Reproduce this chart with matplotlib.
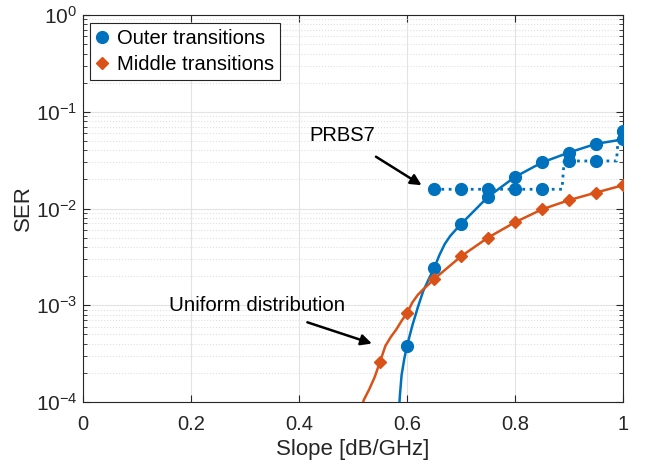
import matplotlib
matplotlib.use("Agg")
import matplotlib.pyplot as plt
from matplotlib.ticker import FixedLocator, FixedFormatter, LogLocator, NullFormatter

plt.rcParams['font.family'] = ['Liberation Sans', 'DejaVu Sans']
plt.rcParams['mathtext.fontset'] = 'custom'
plt.rcParams['mathtext.rm'] = 'Liberation Sans'
plt.rcParams['mathtext.it'] = 'Liberation Sans'
plt.rcParams['mathtext.default'] = 'regular'

# ---- data ----
# Outer transitions, uniform distribution: markers
outer_x = [0.60, 0.65, 0.70, 0.75, 0.80, 0.85, 0.90, 0.95, 1.00]
outer_y = [3.8e-4, 2.4e-3, 6.9e-3, 1.32e-2, 2.12e-2, 2.99e-2, 3.79e-2, 4.66e-2, 5.18e-2]
# Outer transitions, uniform distribution: finer line
outer_line_x = [0.585, 0.587, 0.590, 0.595, 0.60, 0.61, 0.62, 0.63, 0.64, 0.65,
                0.66, 0.67, 0.68, 0.69, 0.70, 0.75, 0.80, 0.85, 0.90, 0.95, 1.00]
outer_line_y = [8.0e-5, 1.2e-4, 1.9e-4, 2.8e-4, 3.8e-4, 6.2e-4, 9.5e-4, 1.4e-3, 1.85e-3, 2.4e-3,
                3.3e-3, 4.3e-3, 5.2e-3, 6.0e-3, 6.9e-3, 1.32e-2, 2.12e-2, 2.99e-2, 3.79e-2, 4.66e-2, 5.18e-2]

# Outer transitions, PRBS7
prbs_x = [0.65, 0.70, 0.75, 0.80, 0.85, 0.90, 0.95, 1.00]
prbs_y = [1.58e-2, 1.58e-2, 1.58e-2, 1.58e-2, 1.58e-2, 3.1e-2, 3.1e-2, 6.3e-2]
prbs_line_x = [0.65, 0.70, 0.75, 0.80, 0.85, 0.887, 0.891, 0.90, 0.95, 0.988, 0.992, 1.00]
prbs_line_y = [1.58e-2, 1.58e-2, 1.58e-2, 1.58e-2, 1.58e-2, 1.58e-2, 3.1e-2, 3.1e-2, 3.1e-2, 3.1e-2, 6.3e-2, 6.3e-2]

# Middle transitions: markers
middle_x = [0.55, 0.60, 0.65, 0.70, 0.75, 0.80, 0.85, 0.90, 0.95, 1.00]
middle_y = [2.6e-4, 8.3e-4, 1.86e-3, 3.2e-3, 5.0e-3, 7.2e-3, 9.8e-3, 1.22e-2, 1.46e-2, 1.74e-2]
# Middle transitions: finer line
middle_line_x = [0.515, 0.52, 0.53, 0.54, 0.55, 0.56, 0.57, 0.58, 0.59, 0.60,
                 0.61, 0.62, 0.63, 0.64, 0.65, 0.70, 0.75, 0.80, 0.85, 0.90, 0.95, 1.00]
middle_line_y = [8.5e-5, 1.05e-4, 1.35e-4, 1.8e-4, 2.6e-4, 3.8e-4, 4.7e-4, 5.6e-4, 6.9e-4, 8.3e-4,
                 1.07e-3, 1.28e-3, 1.46e-3, 1.64e-3, 1.86e-3, 3.2e-3, 5.0e-3, 7.2e-3, 9.8e-3, 1.22e-2, 1.46e-2, 1.74e-2]

xticks = [0, 0.2, 0.4, 0.6, 0.8, 1.0]
xtick_labels = ['0', '0.2', '0.4', '0.6', '0.8', '1']
yticks = [1e-4, 1e-3, 1e-2, 1e-1, 1e0]
ytick_labels = ['$10^{-4}$', '$10^{-3}$', '$10^{-2}$', '$10^{-1}$', '$10^{0}$']

blue = '#0072BD'
orange = '#D95319'
dark = '#262626'

fig = plt.figure(figsize=(6.46, 4.66), dpi=100)
L, R, T, B = 83, 623, 15, 402
ax = fig.add_axes([L/646, 1-B/466, (R-L)/646, (B-T)/466])

ax.set_yscale('log')
ax.set_xlim(0, 1)
ax.set_ylim(1e-4, 1)

# grid
ax.grid(True, which='major', axis='both', color='#e3e3e3', linestyle='-', linewidth=0.8)
ax.grid(True, which='minor', axis='y', color='#e0e0e0', linestyle=':', linewidth=0.8)
ax.set_axisbelow(True)

# lines
ax.plot(outer_line_x, outer_line_y, '-', color=blue, lw=1.8, zorder=3)
ax.plot(outer_x, outer_y, 'o', color=blue, ms=8.5, zorder=4)
ax.plot(prbs_line_x, prbs_line_y, ':', color=blue, lw=2.0, zorder=3)
ax.plot(prbs_x, prbs_y, 'o', color=blue, ms=8.5, zorder=4)
ax.plot(middle_line_x, middle_line_y, '-', color=orange, lw=1.8, zorder=3)
ax.plot(middle_x, middle_y, 'D', color=orange, ms=6.5, zorder=4)

# legend handles
h1, = ax.plot([], [], 'o', color=blue, ms=8.5, label='Outer transitions')
h2, = ax.plot([], [], 'D', color=orange, ms=6.5, label='Middle transitions')
leg = ax.legend(handles=[h1, h2], loc='upper left', bbox_to_anchor=(0.013, 0.98),
                prop={'size': 14.5}, frameon=True, fancybox=False, framealpha=1,
                edgecolor=dark, handlelength=0.6, handletextpad=0.45,
                borderpad=0.3, labelspacing=0.38, borderaxespad=0)
leg.get_frame().set_linewidth(0.8)

# annotations
ax.annotate('PRBS7', xy=(0.627, 1.74e-2), xytext=(0.480, 5.67e-2),
            ha='center', va='center', fontsize=14.5,
            arrowprops=dict(arrowstyle='-|>', color='black', lw=1.8,
                            mutation_scale=16, shrinkA=12, shrinkB=0))
ax.annotate('Uniform distribution', xy=(0.535, 4.02e-4), xytext=(0.322, 9.9e-4),
            ha='center', va='center', fontsize=14.8,
            arrowprops=dict(arrowstyle='-|>', color='black', lw=1.8,
                            mutation_scale=16, shrinkA=10, shrinkB=0))

# ticks
ax.xaxis.set_major_locator(FixedLocator(xticks))
ax.xaxis.set_major_formatter(FixedFormatter(xtick_labels))
ax.yaxis.set_major_locator(FixedLocator(yticks))
ax.yaxis.set_major_formatter(FixedFormatter(ytick_labels))
ax.yaxis.set_minor_locator(LogLocator(base=10, subs=range(2, 10)))
ax.yaxis.set_minor_formatter(NullFormatter())
ax.tick_params(which='both', direction='in', top=True, right=True,
               colors=dark, labelcolor=dark)
ax.tick_params(which='major', length=5, width=0.8)
ax.tick_params(which='minor', length=3, width=0.6)
ax.tick_params(axis='x', labelsize=14.5, pad=9)
ax.tick_params(axis='y', labelsize=15, pad=4)
for s in ax.spines.values():
    s.set_color(dark)
    s.set_linewidth(0.8)

ax.set_xlabel('Slope [dB/GHz]', fontsize=16, color=dark, va='center')
ax.set_ylabel('SER', fontsize=16, color=dark, va='center')
ax.xaxis.set_label_coords(0.5, -(450 - B) / (B - T))
ax.yaxis.set_label_coords(-(L - 23.5) / (R - L), 0.5)

fig.savefig('out.png', dpi=100)
